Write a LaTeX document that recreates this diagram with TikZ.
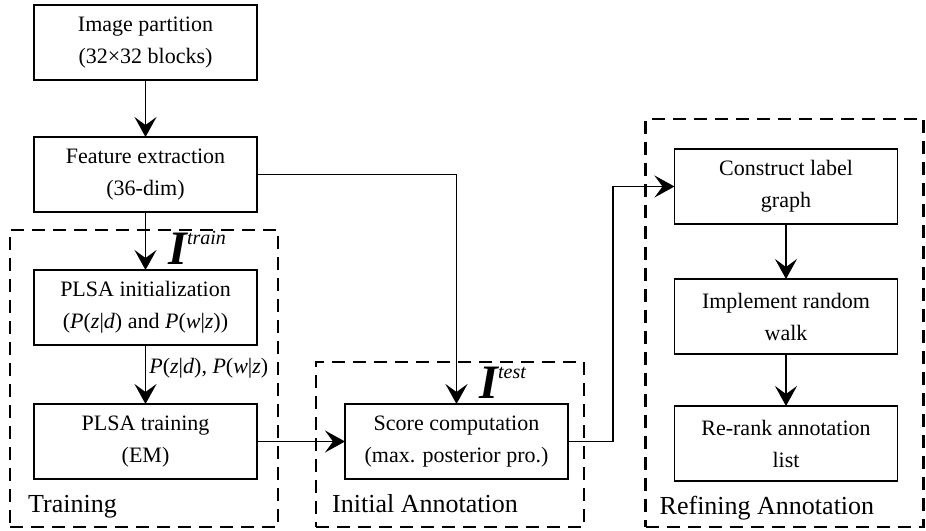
\documentclass[tikz,border=0pt]{standalone}
\usepackage{fontspec}
\setmainfont{Liberation Serif}
\usetikzlibrary{arrows.meta,positioning,calc,fit}

\newcommand{\imgset}[1]{{\fontsize{24}{24}\selectfont\bfseries\itshape I}\raisebox{10pt}{\fontsize{10}{10}\selectfont\itshape #1}}

\begin{document}
\begin{tikzpicture}[
    >={Stealth[length=10pt,width=11pt,inset=4pt]},
    every node/.style={font=\fontsize{11}{16}\selectfont},
    blk/.style={draw, line width=0.9pt, align=center, minimum width=111.5pt, minimum height=37.5pt, inner sep=2pt, outer sep=0pt},
    grp/.style={draw, line width=1.2pt, dash pattern=on 6.5pt off 4pt, inner sep=0pt},
    grplbl/.style={anchor=base west, inner sep=0pt, font=\fontsize{13}{15}\selectfont},
    arr/.style={->, line width=0.9pt}
  ]
    \useasboundingbox (0,0) rectangle (463pt,-265pt);

    \node[blk] (part) at (72.75pt,-21.25pt) {Image partition\\(32×32 blocks)};
    \node[blk, below=28.5pt of part] (feat) {Feature extraction\\(36-dim)};
    \node[blk, below=29pt of feat]   (init) {PLSA initialization\\(\textit{P}(\textit{z}|\textit{d}) and \textit{P}(\textit{w}|\textit{z}))};
    \node[blk, below=29.5pt of init] (train) {PLSA training\\(EM)};
    \node[blk, right=44pt of train]  (score) {Score computation\\(max. posterior pro.)};

    \node[blk] (graph) at (393pt,-93.25pt) {Construct label\\graph};
    \node[blk, below=27.5pt of graph] (walk) {Implement random\\walk};
    \node[blk, below=26pt of walk]    (rank) {Re-rank annotation\\list};

    % dashed groups
    \node[grp, fit={($(init.north west)+(-12pt,20pt)$) ($(train.south east)+(10.5pt,-24pt)$)}] (trg) {};
    \node[grp, fit={($(score.north west)+(-14.5pt,21pt)$) ($(score.south east)+(8pt,-24pt)$)}] (ini) {};
    \node[grp, fit={($(graph.north west)+(-14.5pt,15pt)$) ($(rank.south east)+(13pt,-23pt)$)}] (ref) {};
    \node[grplbl] (trglbl) at ($(trg.south west)+(9.5pt,8pt)$) {Training};
    \node[grplbl] (inilbl) at ($(ini.south west)+(8.5pt,8pt)$) {Initial Annotation};
    \node[grplbl] (reflbl) at ($(ref.south west)+(7.5pt,7pt)$) {Refining Annotation};

    % flow
    \draw[arr] (part) -- (feat);
    \draw[arr] (feat) -- node[pos=1, anchor=base west, xshift=11pt, yshift=3pt, inner sep=0pt] (itrain) {\imgset{train}} (init);
    \draw[arr] (init) -- node[right, pos=0.4, inner sep=1.5pt] (prob) {\textit{P}(\textit{z}|\textit{d}), \textit{P}(\textit{w}|\textit{z})} (train);
    \draw[arr] (train) -- (score);
    \draw[arr] (feat.east) -| node[pos=1, anchor=base west, xshift=11pt, yshift=3pt, inner sep=0pt] (itest) {\imgset{test}} (score.north);
    \draw[arr] (score.east) -- ++(22.5pt,0) |- (graph.west);
    \draw[arr] (graph) -- (walk);
    \draw[arr] (walk) -- (rank);

  \end{tikzpicture}
\end{document}
